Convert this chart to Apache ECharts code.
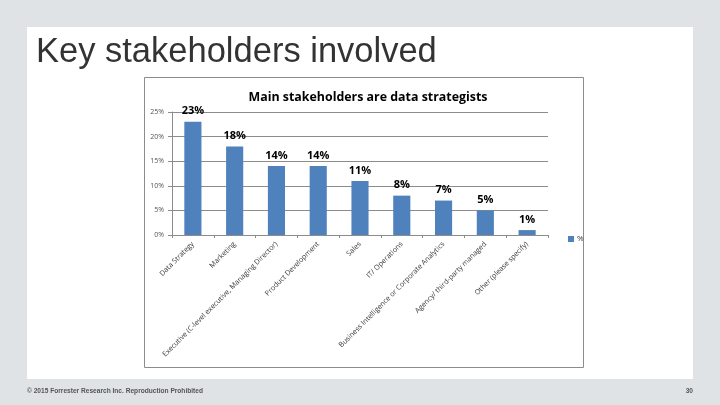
<!DOCTYPE html>
<html><head><meta charset="utf-8">
<script src="https://cdn.jsdelivr.net/npm/echarts@6/dist/echarts.min.js"></script>
<style>html,body{margin:0;padding:0;background:#dfe3e6;}#c{width:720px;height:405px;}</style>
</head><body><div id="c"></div>
<script>
const categories = ["Data Strategy", "Marketing", "Executive (C-level executive, Managing Director)", "Product Development", "Sales", "IT/ Operations", "Business Intelligence or Corporate Analytics", "Agency/ third-party managed", "Other (please specify)"];
const values = [23, 18, 14, 14, 11, 8, 7, 5, 1];
const yTicks = [0, 5, 10, 15, 20, 25];

const chart = echarts.init(document.getElementById('c'), null, {renderer: 'canvas'});
chart.setOption({
  backgroundColor: '#dfe3e6',
  animation: false,
  graphic: [
    {type: 'rect', shape: {x: 27, y: 27, width: 666, height: 352}, style: {fill: '#ffffff'}, z: -10},
    {type: 'rect', shape: {x: 144.5, y: 77.5, width: 439, height: 290}, style: {fill: '#ffffff', stroke: '#8c8c8c', lineWidth: 1}, z: -9},
    {type: 'text', left: 36, top: 35, style: {text: 'Key stakeholders involved', font: '34.5px "Liberation Sans", Arial, sans-serif', fill: '#333333'}},
    {type: 'text', left: 27, top: 388, style: {text: '© 2015 Forrester Research Inc. Reproduction Prohibited', font: 'bold 6.6px "Liberation Sans", Arial, sans-serif', fill: '#555555'}},
    {type: 'text', right: 27, top: 388, style: {text: '30', font: 'bold 6.6px "Liberation Sans", Arial, sans-serif', fill: '#555555'}}
  ],
  title: {
    text: 'Main stakeholders are data strategists',
    left: 363, top: 86, textAlign: 'center',
    textStyle: {fontFamily: '"Open Sans", "Noto Sans", sans-serif', fontSize: 12.4, fontWeight: 'bold', color: '#000'}
  },
  legend: {
    data: ['%'], left: 563, top: 230, itemWidth: 6, itemHeight: 6, itemGap: 3,
    icon: 'rect',
    textStyle: {fontSize: 8, color: '#404040', fontFamily: '"Open Sans", sans-serif', padding: [0, 0, 0, -2]}
  },
  grid: {left: 172, right: 172, top: 112, bottom: 170, containLabel: false},
  xAxis: {
    type: 'category', data: categories,
    axisLine: {lineStyle: {color: '#8c8c8c'}},
    axisTick: {show: true, length: 3, lineStyle: {color: '#8c8c8c'}},
    axisLabel: {rotate: 45, interval: 0, fontSize: 7.2, color: '#404040', fontFamily: '"Open Sans", "Noto Sans", sans-serif', margin: 8}
  },
  yAxis: {
    type: 'value', min: 0, max: 25, interval: 5,
    axisLine: {show: true, lineStyle: {color: '#8c8c8c'}},
    axisTick: {show: true, inside: false, length: 4, lineStyle: {color: '#8c8c8c'}},
    splitLine: {lineStyle: {color: '#8c8c8c'}},
    axisLabel: {formatter: '{value}%', fontSize: 7, color: '#555', fontFamily: '"Open Sans", sans-serif', margin: 8}
  },
  series: [{
    name: '%', type: 'bar', data: values, barWidth: '41%',
    itemStyle: {color: '#4f81bd'},
    label: {show: true, position: 'top', formatter: '{c}%', fontSize: 11, fontWeight: 'bold', color: '#000', fontFamily: '"Open Sans", "Noto Sans", sans-serif', distance: 5}
  }]
});
</script></body></html>
